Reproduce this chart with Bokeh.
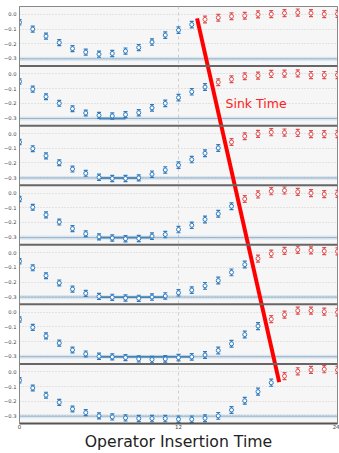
from bokeh.plotting import figure
from bokeh.models import FixedTicker, Range1d, Span
from bokeh.embed import file_html
from bokeh.resources import INLINE
from bokeh.core.properties import value
import numpy as np

# ---------------- data ----------------
t = list(range(25))
sink_times = [14, 15, 16, 17, 18, 19, 20]

corr_t14 = [-0.054, -0.100, -0.148, -0.192, -0.233, -0.257, -0.271, -0.266, -0.250, -0.226, -0.188, -0.141,
            -0.107, -0.069, -0.034, -0.022, -0.013, -0.009, 0.000, 0.002, 0.009, 0.013, 0.009, 0.002, 0.004]
corr_t15 = [-0.051, -0.103, -0.155, -0.200, -0.237, -0.266, -0.282, -0.286, -0.277, -0.264, -0.231, -0.200,
            -0.161, -0.121, -0.089, -0.056, -0.036, -0.016, -0.011, 0.000, 0.002, 0.004, -0.007, -0.007, -0.007]
corr_t16 = [-0.058, -0.103, -0.152, -0.199, -0.242, -0.271, -0.298, -0.306, -0.306, -0.302, -0.277, -0.248,
            -0.215, -0.177, -0.134, -0.098, -0.058, -0.018, -0.002, 0.009, 0.007, 0.004, -0.004, -0.004, -0.004]
corr_t17 = [-0.040, -0.096, -0.148, -0.197, -0.242, -0.277, -0.298, -0.306, -0.311, -0.309, -0.293, -0.282,
            -0.248, -0.219, -0.179, -0.141, -0.089, -0.040, -0.009, 0.013, 0.018, 0.009, 0.000, -0.007, -0.005]
corr_t18 = [-0.058, -0.103, -0.157, -0.206, -0.248, -0.277, -0.298, -0.304, -0.309, -0.311, -0.302, -0.295,
            -0.273, -0.255, -0.226, -0.190, -0.134, -0.081, -0.040, -0.007, 0.013, 0.020, 0.016, 0.011, 0.009]
corr_t19 = [-0.049, -0.103, -0.161, -0.210, -0.257, -0.284, -0.300, -0.304, -0.309, -0.318, -0.322, -0.318,
            -0.309, -0.304, -0.291, -0.260, -0.215, -0.152, -0.094, -0.047, -0.016, 0.011, 0.011, 0.004, 0.000]
corr_t20 = [-0.058, -0.110, -0.159, -0.208, -0.253, -0.278, -0.300, -0.307, -0.314, -0.318, -0.318, -0.318,
            -0.323, -0.323, -0.316, -0.300, -0.260, -0.197, -0.135, -0.074, -0.029, 0.004, 0.013, 0.018, 0.013]
panels = [corr_t14, corr_t15, corr_t16, corr_t17, corr_t18, corr_t19, corr_t20]

errors = [0.018, 0.020, 0.020, 0.020, 0.020, 0.020, 0.021, 0.021, 0.021, 0.021, 0.022, 0.022,
          0.022, 0.022, 0.023, 0.023, 0.023, 0.023, 0.024, 0.024, 0.024, 0.024, 0.024, 0.024, 0.024]

plateau_value = -0.303
plateau_error = 0.014
fit_error = 0.008
fit_start = [None, 6, 6, 6, 6, 6, None]
fit_end = [None, 8, 9, 10, 11, 13, None]

y_ticks = [0.0, -0.1, -0.2, -0.3]
y_tick_labels = ["0.0", "\u22120.1", "\u22120.2", "\u22120.3"]
x_ticks = [0, 12, 24]
x_title = "Operator Insertion Time"

sink_line_x = [13.4, 19.6]
sink_line_panel = [0, 6]
sink_line_y = [-0.027, -0.07]
sink_label = "Sink Time"
sink_label_x = 15.55
sink_label_y = -0.203
sink_label_panel = 1

# ---------------- layout ----------------
y_top = 0.054
panel_span = 0.406
n = len(panels)
y_bottom = y_top - n * panel_span

BLUE = "#2f7bbf"
RED = "#df4f4f"
BAND = "#1f77b4"

p = figure(width=339, height=453, output_backend="svg", toolbar_location=None,
           x_range=Range1d(t[0], t[-1]), y_range=Range1d(y_bottom, y_top),
           min_border_top=6, min_border_right=2, min_border_left=19, min_border_bottom=0,
           background_fill_color="#f6f6f6", border_fill_color="white")
p.outline_line_color = "#888888"
p.outline_line_width = 1

# y ticks per panel
tick_pos = []
overrides = {}
for i in range(n):
    off = -i * panel_span
    for v, lab in zip(y_ticks, y_tick_labels):
        pos = round(v + off, 6)
        tick_pos.append(pos)
        overrides[pos] = lab
p.yaxis.ticker = FixedTicker(ticks=tick_pos)
p.yaxis.major_label_overrides = overrides
p.yaxis.major_label_text_font_size = "5.2px"
p.yaxis.major_label_text_color = "#444444"
p.yaxis.major_label_text_font = "DejaVu Sans"
p.yaxis.major_tick_out = 0
p.yaxis.major_tick_in = 0
p.yaxis.minor_tick_out = 0
p.yaxis.minor_tick_in = 0
p.yaxis.major_label_standoff = 3
p.yaxis.axis_line_color = "#888888"

p.xaxis.ticker = FixedTicker(ticks=x_ticks)
p.xaxis.major_label_text_font_size = "5.4px"
p.xaxis.major_label_text_color = "#444444"
p.xaxis.major_label_text_font = "DejaVu Sans"
p.xaxis.major_tick_out = 0
p.xaxis.major_tick_in = 0
p.xaxis.minor_tick_out = 0
p.xaxis.minor_tick_in = 0
p.xaxis.major_label_standoff = 1
p.xaxis.axis_line_color = "#555555"
p.xaxis.axis_line_width = 2
p.xaxis.axis_label = x_title
p.xaxis.axis_label_text_font = "DejaVu Sans"
p.xaxis.axis_label_text_font_style = "normal"
p.xaxis.axis_label_text_font_size = "15.7px"
p.xaxis.axis_label_text_color = "#222222"
p.xaxis.axis_label_standoff = 0

p.ygrid.grid_line_color = "#cfcfcf"
p.ygrid.grid_line_dash = "1 2"
p.xgrid.grid_line_color = "#cfcfcf"
p.xgrid.grid_line_dash = "3 3"

tx = np.array(t, dtype=float)
err = np.array(errors)
for i, vals in enumerate(panels):
    off = -i * panel_span
    y = np.array(vals) + off
    # plateau band
    p.quad(left=t[0], right=t[-1], bottom=plateau_value - plateau_error + off,
           top=plateau_value + plateau_error + off, fill_color=BAND, fill_alpha=0.12, line_color=None)
    if fit_start[i] is not None:
        p.quad(left=fit_start[i], right=fit_end[i], bottom=plateau_value - fit_error + off,
               top=plateau_value + fit_error + off, fill_color=BAND, fill_alpha=0.35, line_color=None)
        p.segment(x0=fit_start[i], x1=fit_end[i], y0=plateau_value + off, y1=plateau_value + off,
                  line_color="#2a6aa0", line_width=1.5, line_alpha=0.8)
    p.segment(x0=t[0], x1=t[-1], y0=plateau_value + off, y1=plateau_value + off,
              line_color="#5b8db8", line_width=1, line_alpha=0.5)
    # panel separator
    if i > 0:
        p.add_layout(Span(location=y_top + off, dimension="width", line_color="#666666", line_width=2))
    mask_b = tx < sink_times[i]
    for mask, col in ((mask_b, BLUE), (~mask_b, RED)):
        xs = tx[mask]
        ys = y[mask]
        es = err[mask]
        p.segment(x0=xs, x1=xs, y0=ys - es, y1=ys + es, line_color=col, line_width=1.2)
        p.scatter(x=xs, y=ys - es, marker="dash", size=4, line_color=col, line_width=1.2)
        p.scatter(x=xs, y=ys + es, marker="dash", size=4, line_color=col, line_width=1.2)
        p.scatter(x=xs, y=ys, marker="circle", size=4, line_color=col, fill_color="white", line_width=1)

# sink time line
sy = [sink_line_y[k] - sink_line_panel[k] * panel_span for k in range(2)]
p.line(x=sink_line_x, y=sy, line_color="#ff0000", line_width=4)
p.text(x=[sink_label_x], y=[sink_label_y - sink_label_panel * panel_span], text=[sink_label],
       text_color="#ff2020", text_font=value("DejaVu Sans"), text_font_size="12.5px",
       text_baseline="middle", text_align="left")

open("out.html", "w").write(file_html(p, INLINE))
